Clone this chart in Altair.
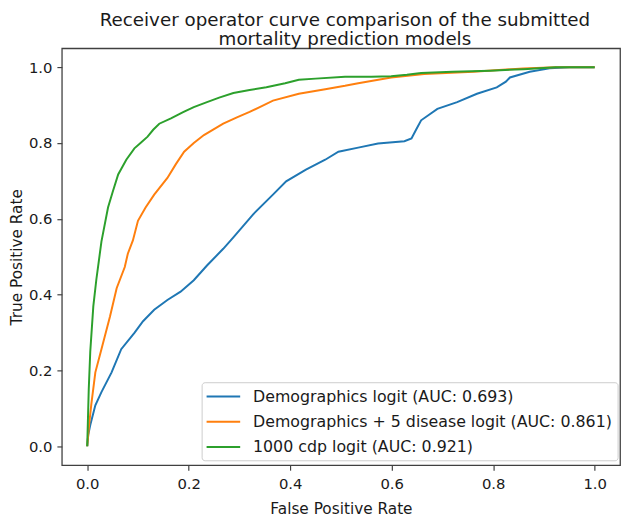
import altair as alt
import pandas as pd

series_names = [
    "Demographics logit (AUC: 0.693)",
    "Demographics + 5 disease logit (AUC: 0.861)",
    "1000 cdp logit (AUC: 0.921)",
]
series_colors = ["#1f77b4", "#ff7f0e", "#2ca02c"]

demo_fpr = [0.0, 0.002, 0.006, 0.016, 0.028, 0.048, 0.067, 0.093, 0.11, 0.132, 0.158, 0.184,
            0.21, 0.236, 0.268, 0.288, 0.327, 0.366, 0.392, 0.431, 0.469, 0.495, 0.534, 0.573,
            0.625, 0.639, 0.648, 0.658, 0.69, 0.729, 0.768, 0.807, 0.825, 0.833, 0.872, 0.911,
            0.95, 1.0]
demo_tpr = [0.0, 0.03, 0.056, 0.108, 0.143, 0.195, 0.256, 0.299, 0.33, 0.36, 0.386, 0.408,
            0.438, 0.477, 0.521, 0.551, 0.612, 0.664, 0.699, 0.73, 0.756, 0.777, 0.788, 0.799,
            0.805, 0.812, 0.835, 0.86, 0.89, 0.908, 0.93, 0.947, 0.962, 0.973, 0.988, 0.997,
            1.0, 1.0]

dis_fpr = [0.0, 0.004, 0.008, 0.016, 0.028, 0.045, 0.058, 0.074, 0.08, 0.09, 0.1, 0.115,
           0.132, 0.158, 0.175, 0.191, 0.21, 0.23, 0.268, 0.295, 0.32, 0.345, 0.366, 0.417,
           0.469, 0.508, 0.534, 0.599, 0.664, 0.761, 0.859, 0.923, 1.0]
dis_tpr = [0.0, 0.06, 0.11, 0.195, 0.256, 0.343, 0.417, 0.473, 0.508, 0.543, 0.595, 0.63,
           0.664, 0.708, 0.745, 0.777, 0.80, 0.821, 0.851, 0.868, 0.882, 0.898, 0.912, 0.93,
           0.942, 0.951, 0.958, 0.973, 0.982, 0.988, 0.997, 1.0, 1.0]

cdp_fpr = [0.0, 0.003, 0.006, 0.012, 0.018, 0.023, 0.028, 0.041, 0.05, 0.061, 0.077, 0.093,
           0.105, 0.119, 0.13, 0.142, 0.165, 0.19, 0.21, 0.236, 0.26, 0.288, 0.32, 0.353,
           0.39, 0.417, 0.45, 0.508, 0.56, 0.599, 0.63, 0.658, 0.72, 0.794, 0.86, 0.923, 1.0]
cdp_tpr = [0.0, 0.15, 0.25, 0.369, 0.44, 0.49, 0.54, 0.63, 0.67, 0.717, 0.756, 0.786,
           0.80, 0.817, 0.835, 0.851, 0.865, 0.882, 0.895, 0.908, 0.92, 0.932, 0.94, 0.947,
           0.958, 0.967, 0.970, 0.975, 0.975, 0.976, 0.98, 0.985, 0.988, 0.991, 0.995, 1.0, 1.0]

tick_values = [0.0, 0.2, 0.4, 0.6, 0.8, 1.0]

rows = []
for name, xs, ys in zip(series_names, [demo_fpr, dis_fpr, cdp_fpr], [demo_tpr, dis_tpr, cdp_tpr]):
    for i, (x, y) in enumerate(zip(xs, ys)):
        rows.append({"series": name, "fpr": x, "tpr": y, "idx": i})
df = pd.DataFrame(rows)

FONT = "DejaVu Sans"
TXT = "#1a1a1a"
LINE = "#404040"

color = alt.Color(
    "series:N",
    scale=alt.Scale(domain=series_names, range=series_colors),
    legend=alt.Legend(
        title=None, orient="none", legendX=141.5, legendY=338, direction="vertical",
        symbolType="M-2,0H2", symbolSize=289, symbolStrokeWidth=2,
        symbolOffset=7.5, labelOffset=20.5,
        labelFontSize=16, labelFont=FONT, labelColor=TXT, labelLimit=0,
        rowPadding=7.5, padding=5, strokeColor="#cccccc", fillColor="white",
        cornerRadius=3,
    ),
)

base = alt.Chart(df).mark_line(strokeWidth=2, clip=True).encode(
    x=alt.X("fpr:Q", scale=alt.Scale(domain=[-0.05, 1.05], nice=False, zero=False),
            axis=alt.Axis(values=tick_values, format=".1f", title="False Positive Rate",
                          labelPadding=7, titlePadding=10)),
    y=alt.Y("tpr:Q", scale=alt.Scale(domain=[-0.05, 1.05], nice=False, zero=False),
            axis=alt.Axis(values=tick_values, format=".1f", title="True Positive Rate",
                          labelPadding=5, titlePadding=4)),
    color=color,
    order="idx:Q",
)

layers = [base.transform_filter(alt.datum.series == n) for n in series_names]

chart = alt.layer(*layers).properties(
    width=565, height=422,
    title=alt.TitleParams(
        text=["Receiver operator curve comparison of the submitted", "mortality prediction models"],
        fontSize=18.5, font=FONT, fontWeight="normal", color=TXT, anchor="middle",
        offset=0, lineHeight=19.5, dx=4,
    ),
    autosize=alt.AutoSizeParams(type="none"),
    padding={"left": 54.5, "top": 37.7, "right": 5, "bottom": 49},
).configure_view(
    stroke=LINE, strokeWidth=1.3
).configure_axis(
    grid=False, domain=False, tickSize=5, tickColor=LINE, tickWidth=1.2,
    labelFontSize=15, labelFont=FONT, labelColor=TXT,
    titleFontSize=15.5, titleFont=FONT, titleFontWeight="normal", titleColor=TXT,
)

chart.save("out.html", embed_options={"renderer": "svg", "actions": False})
